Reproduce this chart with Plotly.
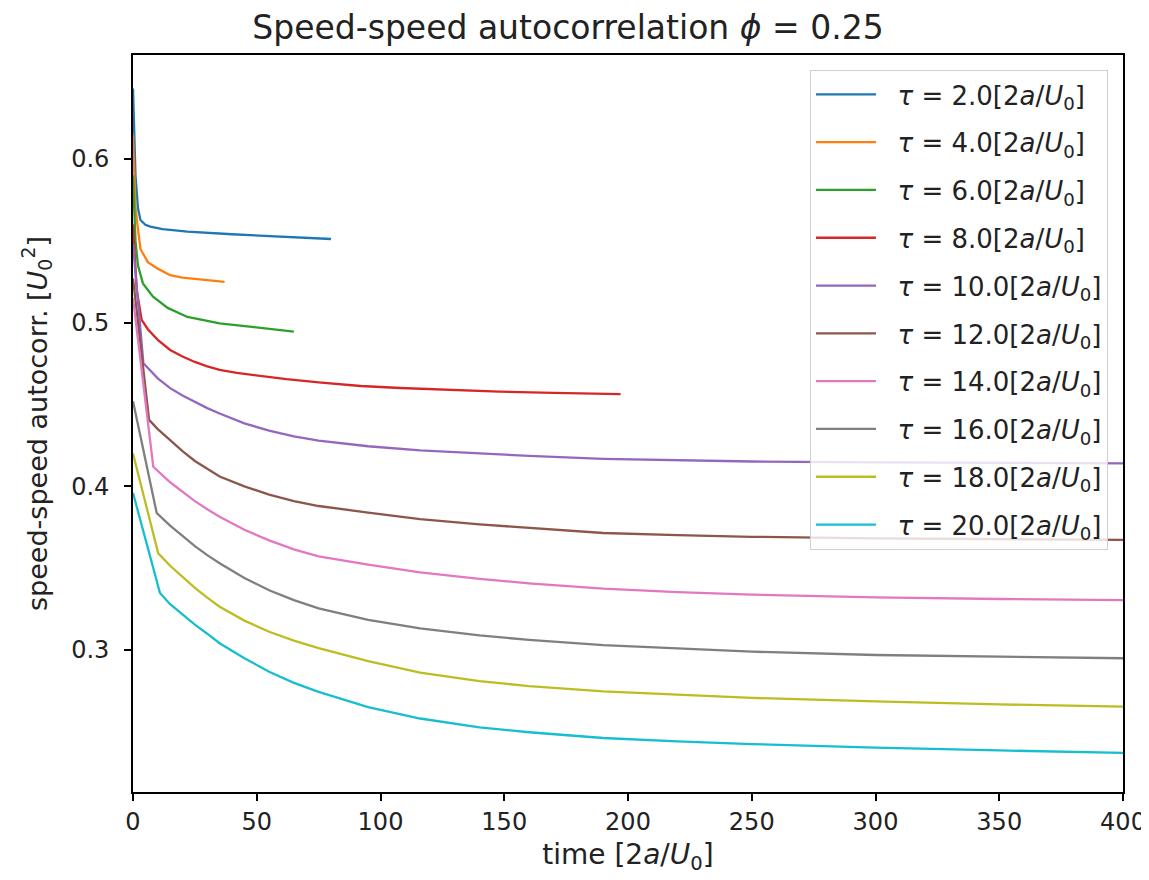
import plotly.graph_objects as go

# ---- data ----
tau_values = [2.0, 4.0, 6.0, 8.0, 10.0, 12.0, 14.0, 16.0, 18.0, 20.0]

t_tau2 = [0, 1, 2, 3, 5, 7, 12, 22, 40, 60, 80]
c_tau2 = [0.643, 0.59, 0.57, 0.5627, 0.5598, 0.5587, 0.5572, 0.5556, 0.554, 0.5525, 0.5511]

t_tau4 = [0, 1, 3, 6, 10, 15, 20, 30, 37]
c_tau4 = [0.615, 0.57, 0.545, 0.537, 0.533, 0.529, 0.5275, 0.5258, 0.5249]

t_tau6 = [0, 1, 2, 4, 8, 14, 22, 35, 48, 65]
c_tau6 = [0.59, 0.55, 0.535, 0.524, 0.516, 0.509, 0.5035, 0.4995, 0.4974, 0.4945]

t_tau8 = [0, 1.5, 3.5, 6, 10, 15, 20, 25, 30, 35, 42, 50, 62, 75, 92, 108, 128, 148, 170, 197]
c_tau8 = [0.56, 0.52, 0.5017, 0.496, 0.4895, 0.4833, 0.4793, 0.476, 0.4733, 0.4711, 0.4693,
          0.4677, 0.4655, 0.4635, 0.4613, 0.4601, 0.4589, 0.4579, 0.4571, 0.4564]

t_tau10 = [0, 4.2, 10, 15, 20, 25, 30, 35, 45, 55, 65, 75, 95, 116, 140, 160, 190, 220, 250, 300, 350, 400]
c_tau10 = [0.548, 0.4752, 0.466, 0.46, 0.4555, 0.4515, 0.4478, 0.4445, 0.4385, 0.434, 0.4305,
           0.428, 0.4245, 0.422, 0.42, 0.4186, 0.4168, 0.4158, 0.4152, 0.4147, 0.4143, 0.414]

t_tau12 = [0, 6.5, 10, 15, 20, 25, 30, 35, 45, 55, 65, 75, 95, 116, 140, 160, 190, 220, 250, 300, 350, 400]
c_tau12 = [0.527, 0.4406, 0.435, 0.428, 0.4215, 0.4155, 0.4105, 0.406, 0.4, 0.395, 0.391,
           0.388, 0.384, 0.38, 0.3768, 0.3748, 0.3715, 0.3702, 0.3692, 0.3682, 0.3676, 0.3673]

t_tau14 = [0, 8.2, 15, 20, 25, 30, 35, 45, 55, 65, 75, 95, 116, 140, 160, 190, 220, 250, 300, 350, 400]
c_tau14 = [0.515, 0.412, 0.4025, 0.3965, 0.391, 0.386, 0.3815, 0.3735, 0.367, 0.3615, 0.3572,
           0.3522, 0.3475, 0.3435, 0.3408, 0.3375, 0.3354, 0.3339, 0.3322, 0.3312, 0.3305]

t_tau16 = [0, 9.6, 15, 20, 25, 30, 35, 45, 55, 65, 75, 95, 116, 140, 160, 190, 220, 250, 300, 350, 400]
c_tau16 = [0.452, 0.3836, 0.376, 0.3695, 0.3635, 0.358, 0.353, 0.344, 0.3365, 0.3305, 0.3255,
           0.3185, 0.3132, 0.309, 0.3062, 0.303, 0.3008, 0.299, 0.297, 0.2958, 0.295]

t_tau18 = [0, 10.2, 15, 20, 25, 30, 35, 45, 55, 65, 75, 95, 116, 140, 160, 190, 220, 250, 300, 350, 400]
c_tau18 = [0.42, 0.3591, 0.3515, 0.3445, 0.338, 0.332, 0.3265, 0.318, 0.3112, 0.3058, 0.3012,
           0.2932, 0.2862, 0.281, 0.278, 0.2748, 0.2726, 0.2708, 0.2686, 0.2668, 0.2655]

t_tau20 = [0, 10.9, 15, 20, 25, 30, 35, 45, 55, 65, 75, 95, 116, 140, 160, 190, 220, 250, 300, 350, 400]
c_tau20 = [0.396, 0.3349, 0.328, 0.3215, 0.3155, 0.31, 0.3042, 0.295, 0.2868, 0.28, 0.2745,
           0.2652, 0.2582, 0.2528, 0.2498, 0.2463, 0.2442, 0.2426, 0.2404, 0.2387, 0.2372]

series_t = [t_tau2, t_tau4, t_tau6, t_tau8, t_tau10, t_tau12, t_tau14, t_tau16, t_tau18, t_tau20]
series_c = [c_tau2, c_tau4, c_tau6, c_tau8, c_tau10, c_tau12, c_tau14, c_tau16, c_tau18, c_tau20]

x_ticks = [0, 50, 100, 150, 200, 250, 300, 350, 400]
y_ticks = [0.3, 0.4, 0.5, 0.6]

colors = ["#1f77b4", "#ff7f0e", "#2ca02c", "#d62728", "#9467bd",
          "#8c564b", "#e377c2", "#7f7f7f", "#bcbd22", "#17becf"]

FONT = "DejaVu Sans"
TXT = "#222222"
NB = "\u00a0"

fig = go.Figure()
for i, (tau, t, c) in enumerate(zip(tau_values, series_t, series_c)):
    fig.add_trace(go.Scatter(
        x=t, y=c, mode="lines",
        line=dict(color=colors[i], width=2.3),
        name=f"{NB}{NB}<i>τ</i> = {tau:.1f}[2<i>a</i>/<i>U</i><sub>0</sub>]",
        legendgroup=f"g{i}",
    ))

fig.update_layout(
    width=1141, height=872, autosize=False,
    margin=dict(l=125, r=26, t=47, b=88),
    paper_bgcolor="white", plot_bgcolor="white",
    font=dict(family=FONT, size=24, color=TXT),
    title=dict(
        text="Speed-speed autocorrelation <i>ϕ</i> = 0.25",
        x=0.4908, xanchor="center", y=1 - 19 / 872, yanchor="middle",
        font=dict(family=FONT, size=33, color=TXT),
    ),
    xaxis=dict(
        range=[0, 400], tickmode="array", tickvals=x_ticks,
        automargin=False,
        showgrid=False, zeroline=False,
        showline=True, linecolor="black", linewidth=1.6, mirror=True,
        ticks="outside", ticklen=7, tickwidth=1.6, tickcolor="black",
        tickfont=dict(family=FONT, size=24, color=TXT),
        title=dict(text="time [2<i>a</i>/<i>U</i><sub>0</sub>]", standoff=10,
                   font=dict(family=FONT, size=28, color=TXT)),
    ),
    yaxis=dict(
        range=[0.2133, 0.6635], tickmode="array", tickvals=y_ticks,
        ticktext=[f"{v:.1f}" for v in y_ticks],
        automargin=False,
        showgrid=False, zeroline=False,
        showline=True, linecolor="black", linewidth=1.6, mirror=True,
        ticks="outside", ticklen=7, tickwidth=1.6, tickcolor="black",
        ticklabelstandoff=10,
        tickfont=dict(family=FONT, size=24, color=TXT),
        title=dict(text="speed-speed autocorr. [<i>U</i><sub>0</sub><sup>2</sup>]", standoff=16,
                   font=dict(family=FONT, size=27, color=TXT)),
    ),
    legend=dict(
        x=0.9848, y=0.9797, xanchor="right", yanchor="top",
        bgcolor="rgba(255,255,255,0.8)", bordercolor="#d0d0d0", borderwidth=1,
        font=dict(family=FONT, size=26, color=TXT),
        tracegroupgap=11, itemwidth=60,
    ),
    showlegend=True,
)

fig.write_html("out.html")
